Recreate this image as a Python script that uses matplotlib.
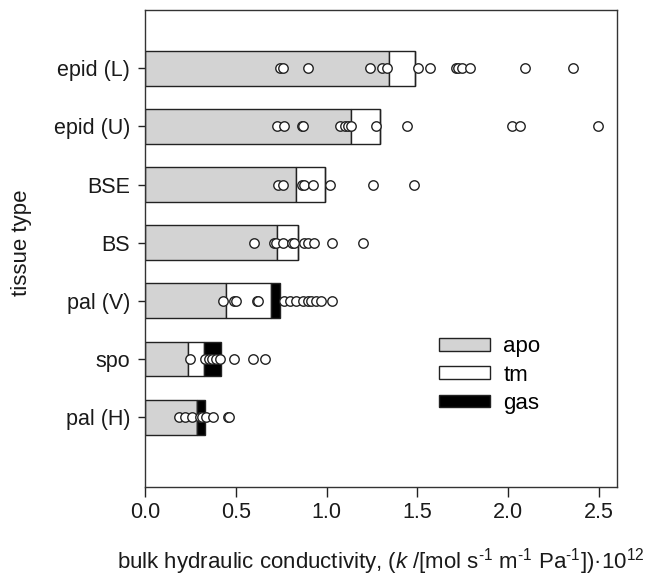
import matplotlib
matplotlib.use("Agg")
import matplotlib.pyplot as plt
from matplotlib.patches import Patch

plt.rcParams['font.family'] = ['Liberation Sans', 'DejaVu Sans']
plt.rcParams['mathtext.fontset'] = 'custom'
plt.rcParams['mathtext.rm'] = 'Liberation Sans'
plt.rcParams['mathtext.it'] = 'Liberation Sans:italic'

categories = ['epid (L)', 'epid (U)', 'BSE', 'BS', 'pal (V)', 'spo', 'pal (H)']
apo = [1.345, 1.135, 0.830, 0.727, 0.445, 0.235, 0.283]
tm = [0.140, 0.157, 0.160, 0.116, 0.249, 0.085, 0.0]
gas = [0.0, 0.0, 0.0, 0.0, 0.047, 0.094, 0.044]

points = [
    [0.743, 0.758, 0.894, 1.240, 1.302, 1.332, 1.501, 1.567, 1.711, 1.725, 1.744, 1.788, 2.094, 2.355],
    [0.728, 0.762, 0.865, 0.868, 1.074, 1.100, 1.118, 1.133, 1.273, 1.442, 2.023, 2.068, 2.498],
    [0.732, 0.758, 0.865, 0.876, 0.923, 1.015, 1.255, 1.479],
    [0.596, 0.710, 0.721, 0.758, 0.809, 0.817, 0.872, 0.898, 0.927, 1.030, 1.199],
    [0.430, 0.489, 0.500, 0.614, 0.622, 0.762, 0.795, 0.830, 0.870, 0.895, 0.915, 0.940, 0.970, 1.030],
    [0.248, 0.327, 0.348, 0.368, 0.390, 0.412, 0.487, 0.594, 0.658],
    [0.184, 0.217, 0.258, 0.298, 0.312, 0.335, 0.372, 0.453, 0.460],
]

xticks = [0.0, 0.5, 1.0, 1.5, 2.0, 2.5]

line_c = '#222222'
fig = plt.figure(figsize=(6.46, 5.76), dpi=100)
ax = fig.add_axes([0.2252, 0.1545, 0.7298, 0.8281])

ypos = list(range(len(categories)))
left_tm = [a for a in apo]
left_gas = [a + t for a, t in zip(apo, tm)]
ax.barh(ypos, apo, height=0.6, color='#d3d3d3', edgecolor=line_c, linewidth=1.0, zorder=2)
ax.barh(ypos, tm, left=left_tm, height=0.6, color='white', edgecolor=line_c, linewidth=1.0, zorder=2)
ax.barh(ypos, gas, left=left_gas, height=0.6, color='black', edgecolor=line_c, linewidth=1.0, zorder=2)

for y, pts in zip(ypos, points):
    ax.plot(pts, [y] * len(pts), linestyle='none', marker='o', markersize=6.8,
            markerfacecolor='white', markeredgecolor=line_c, markeredgewidth=1.0, zorder=3)

ax.set_xlim(0, 2.6)
ax.set_ylim(7.2, -1.0)
ax.set_xticks(xticks)
ax.set_xticklabels([f'{v:.1f}' for v in xticks])
ax.set_yticks(ypos)
ax.set_yticklabels(categories)
ax.tick_params(axis='x', direction='out', length=7, width=1, color=line_c, labelsize=15.5, pad=4, labelcolor='#1a1a1a')
ax.tick_params(axis='y', direction='out', length=5, width=1, color=line_c, labelsize=15.5, pad=6, labelcolor='#1a1a1a')
for s in ax.spines.values():
    s.set_color('#333333')
    s.set_linewidth(1.0)

ax.set_ylabel('tissue type', fontsize=16, color='#1a1a1a')
ax.yaxis.set_label_coords(-0.240, 0.5115)
ax.set_xlabel('bulk hydraulic conductivity, ($\\it{k}$ /[mol s$^{\\text{-}1}$ m$^{\\text{-}1}$ Pa$^{\\text{-}1}$])·10$^{12}$',
              fontsize=16, color='#1a1a1a')
ax.xaxis.set_label_coords(0.50, -0.124)

handles = [Patch(facecolor='#d3d3d3', edgecolor=line_c, linewidth=1.0),
           Patch(facecolor='white', edgecolor=line_c, linewidth=1.0),
           Patch(facecolor='black', edgecolor=line_c, linewidth=1.0)]
ax.legend(handles, ['apo', 'tm', 'gas'], loc='upper left', bbox_to_anchor=(0.622, 0.316),
          frameon=False, fontsize=16, handlelength=2.3, handleheight=0.5,
          labelspacing=0.33, handletextpad=0.6, borderpad=0, borderaxespad=0)

fig.savefig('out.png', dpi=100)
